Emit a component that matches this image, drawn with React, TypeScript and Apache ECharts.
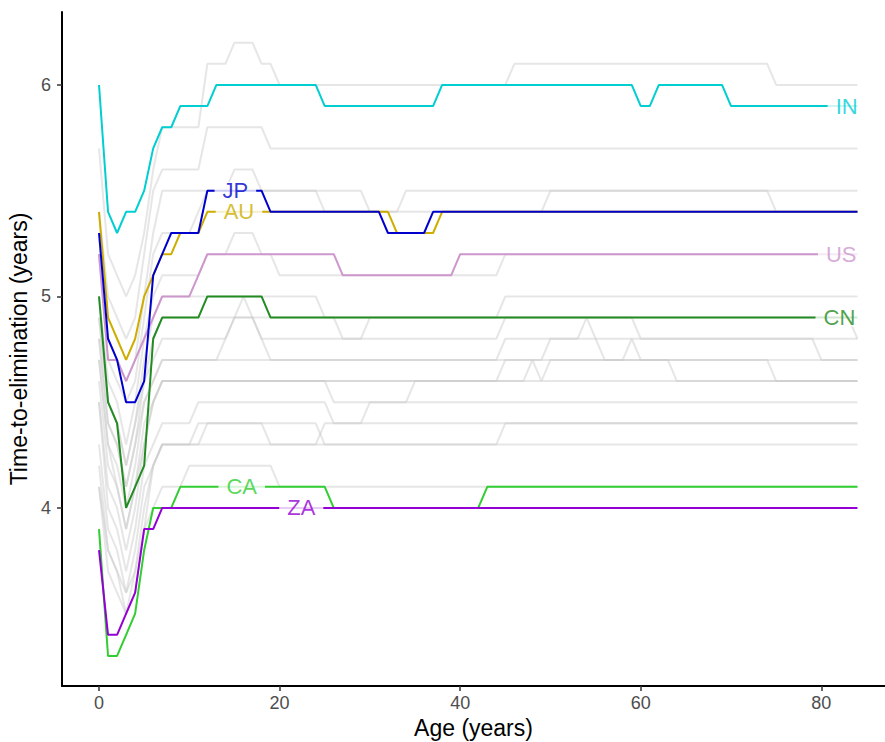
import React, { useEffect, useRef } from "react";
import * as echarts from "echarts";

// ---- Data: [age, time-to-elimination] points where the series changes ----
const inData = [[0,6.0],[1,5.4],[2,5.3],[3,5.4],[4,5.4],[5,5.5],[6,5.7],[7,5.8],[8,5.8],[9,5.9],[12,5.9],[13,6.0],[24,6.0],[25,5.9],[37,5.9],[38,6.0],[59,6.0],[60,5.9],[61,5.9],[62,6.0],[69,6.0],[70,5.9],[84,5.9]];
const jpData = [[0,5.3],[1,4.8],[2,4.7],[3,4.5],[4,4.5],[5,4.6],[6,5.1],[7,5.2],[8,5.3],[11,5.3],[12,5.5],[18,5.5],[19,5.4],[31,5.4],[32,5.3],[36,5.3],[37,5.4],[84,5.4]];
const auData = [[0,5.4],[1,4.9],[2,4.8],[3,4.7],[4,4.8],[5,5.0],[6,5.1],[7,5.2],[8,5.2],[9,5.3],[11,5.3],[12,5.4],[32,5.4],[33,5.3],[37,5.3],[38,5.4],[84,5.4]];
const usData = [[0,5.2],[1,4.7],[2,4.7],[3,4.6],[4,4.7],[5,4.8],[6,4.9],[7,5.0],[10,5.0],[11,5.1],[12,5.2],[26,5.2],[27,5.1],[39,5.1],[40,5.2],[84,5.2]];
const cnData = [[0,5.0],[1,4.5],[2,4.4],[3,4.0],[4,4.1],[5,4.2],[6,4.8],[7,4.9],[11,4.9],[12,5.0],[18,5.0],[19,4.9],[84,4.9]];
const caData = [[0,3.9],[1,3.3],[2,3.3],[3,3.4],[4,3.5],[5,3.8],[6,4.0],[7,4.0],[8,4.0],[9,4.1],[25,4.1],[26,4.0],[42,4.0],[43,4.1],[84,4.1]];
const zaData = [[0,3.8],[1,3.4],[2,3.4],[3,3.5],[4,3.6],[5,3.9],[6,3.9],[7,4.0],[84,4.0]];

// other countries (grey background)
const grey01 = [[0,5.7],[1,5.2],[2,5.1],[3,5.0],[4,5.1],[5,5.3],[6,5.6],[7,5.8],[11,5.8],[12,6.1],[14,6.1],[15,6.2],[17,6.2],[18,6.1],[19,6.1],[20,6.0],[45,6.0],[46,6.1],[74,6.1],[75,6.0],[84,6.0]];
const grey02 = [[0,5.4],[1,5.0],[2,4.9],[3,4.8],[4,4.9],[5,5.2],[6,5.5],[7,5.6],[11,5.6],[12,5.8],[18,5.8],[19,5.7],[84,5.7]];
const grey03 = [[0,5.3],[1,4.8],[2,4.7],[3,4.6],[4,4.7],[5,5.0],[6,5.3],[7,5.5],[24,5.5],[25,5.4],[33,5.4],[34,5.5],[74,5.5],[75,5.4],[84,5.4]];
const grey04 = [[0,5.2],[1,4.7],[2,4.6],[3,4.5],[4,4.6],[5,4.9],[6,5.2],[7,5.3],[10,5.3],[11,5.4],[12,5.5],[14,5.5],[15,5.6],[17,5.6],[18,5.5],[29,5.5],[30,5.4],[49,5.4],[50,5.5],[84,5.5]];
const grey05 = [[0,5.0],[1,4.6],[2,4.5],[3,4.3],[4,4.5],[5,4.8],[6,5.0],[7,5.1],[11,5.1],[12,5.2],[14,5.2],[15,5.3],[17,5.3],[18,5.2],[19,5.2],[20,5.1],[44,5.1],[45,5.2],[84,5.2]];
const grey06 = [[0,4.9],[1,4.5],[2,4.4],[3,4.2],[4,4.4],[5,4.7],[6,4.9],[7,5.0],[24,5.0],[25,4.9],[26,4.9],[27,4.8],[29,4.8],[30,4.9],[44,4.9],[45,5.0],[84,5.0]];
const grey07 = [[0,4.8],[1,4.4],[2,4.3],[3,4.1],[4,4.3],[5,4.6],[6,4.7],[7,4.8],[14,4.8],[15,4.9],[17,4.9],[18,4.8],[44,4.8],[45,4.9],[59,4.9],[60,4.8],[84,4.8]];
const grey08 = [[0,4.9],[1,4.5],[2,4.4],[3,4.2],[4,4.4],[5,4.6],[6,4.8],[7,4.9],[83,4.9],[84,4.8]];
const grey09 = [[0,4.7],[1,4.3],[2,4.2],[3,4.0],[4,4.2],[5,4.5],[6,4.6],[7,4.7],[13,4.7],[14,4.8],[15,4.9],[16,5.0],[17,4.9],[18,4.8],[19,4.7],[44,4.7],[45,4.8],[53,4.8],[54,4.9],[55,4.8],[56,4.7],[58,4.7],[59,4.8],[60,4.7],[84,4.7]];
const grey10 = [[0,4.8],[1,4.4],[2,4.3],[3,4.1],[4,4.3],[5,4.5],[6,4.6],[7,4.7],[49,4.7],[50,4.8],[79,4.8],[80,4.7],[84,4.7]];
const grey11 = [[0,4.6],[1,4.2],[2,4.1],[3,3.9],[4,4.1],[5,4.3],[6,4.5],[7,4.6],[44,4.6],[45,4.7],[74,4.7],[75,4.6],[84,4.6]];
const grey12 = [[0,4.7],[1,4.3],[2,4.1],[3,3.9],[4,4.1],[5,4.4],[6,4.5],[7,4.6],[47,4.6],[48,4.7],[49,4.6],[50,4.7],[63,4.7],[64,4.6],[84,4.6]];
const grey13 = [[0,4.5],[1,4.1],[2,4.0],[3,3.8],[4,4.0],[5,4.3],[6,4.5],[7,4.6],[25,4.6],[26,4.5],[34,4.5],[35,4.6],[84,4.6]];
const grey14 = [[0,4.5],[1,4.0],[2,3.9],[3,3.7],[4,3.9],[5,4.2],[6,4.3],[7,4.4],[10,4.4],[11,4.5],[25,4.5],[26,4.4],[29,4.4],[30,4.5],[84,4.5]];
const grey15 = [[0,4.3],[1,3.9],[2,3.8],[3,3.6],[4,3.8],[5,4.1],[6,4.2],[7,4.3],[10,4.3],[11,4.4],[24,4.4],[25,4.3],[44,4.3],[45,4.4],[84,4.4]];
const grey16 = [[0,4.2],[1,3.8],[2,3.7],[3,3.6],[4,3.7],[5,4.0],[6,4.2],[7,4.3],[24,4.3],[25,4.4],[84,4.4]];
const grey17 = [[0,4.1],[1,3.8],[2,3.7],[3,3.5],[4,3.7],[5,3.9],[6,4.2],[7,4.3],[11,4.3],[12,4.4],[18,4.4],[19,4.3],[84,4.3]];
const grey18 = [[0,4.1],[1,3.7],[2,3.6],[3,3.5],[4,3.6],[5,3.9],[6,4.0],[7,4.1],[9,4.1],[10,4.2],[19,4.2],[20,4.1],[84,4.1]];

const greySeries = [grey01, grey02, grey03, grey04, grey05, grey06, grey07, grey08, grey09, grey10, grey11, grey12, grey13, grey14, grey15, grey16, grey17, grey18];

const highlightNames = ["CA", "ZA", "CN", "US", "AU", "JP", "IN"];
const highlightData = [caData, zaData, cnData, usData, auData, jpData, inData];
const highlightColors = ["#32CD32", "#9400D3", "#228B22", "#CD96CD", "#CDAD00", "#0000CD", "#00CED1"];

// direct labels
const labelNames = ["IN", "JP", "AU", "US", "CN", "CA", "ZA"];
const labelAges = [82.8, 15.1, 15.5, 82.2, 82.0, 15.8, 22.4];
const labelValues = [5.9, 5.5, 5.4, 5.2, 4.9, 4.1, 4.0];

const xTicks = [0, 20, 40, 60, 80];
const yTicks = [4, 5, 6];

const FONT = "'Liberation Sans', Arial, Helvetica, sans-serif";

export default function App() {
  const ref = useRef<HTMLDivElement>(null);
  useEffect(() => {
    const chart = echarts.init(ref.current!, null, { renderer: "svg" });
    const colorOf = (n: string) => highlightColors[highlightNames.indexOf(n)];
    const series: any[] = [];
    greySeries.forEach((d, i) => {
      series.push({
        type: "line",
        name: "grey" + i,
        data: d,
        showSymbol: false,
        symbol: "none",
        z: 2,
        lineStyle: { color: "#c8c8c8", width: 2, opacity: 0.45 },
        emphasis: { disabled: true },
      });
    });
    highlightData.forEach((d, i) => {
      series.push({
        type: "line",
        name: highlightNames[i],
        data: d,
        showSymbol: false,
        symbol: "none",
        z: 3,
        lineStyle: { color: highlightColors[i], width: 2 },
        emphasis: { disabled: true },
      });
    });
    series.push({
      type: "scatter",
      name: "labels",
      z: 6,
      symbolSize: 0,
      data: labelNames.map((n, i) => ({
        name: n,
        value: [labelAges[i], labelValues[i]],
        label: { color: colorOf(n) },
      })),
      label: {
        show: true,
        position: "inside",
        formatter: (p: any) => p.name,
        fontSize: 22,
        fontFamily: FONT,
        backgroundColor: "#ffffff",
        padding: [0, 8],
        lineHeight: 18,
      },
      emphasis: { disabled: true },
    });

    chart.setOption({
      animation: false,
      backgroundColor: "#ffffff",
      grid: { left: 62, right: 0, top: 12, bottom: 56, containLabel: false, outerBoundsMode: "none" },
      xAxis: {
        type: "value",
        min: -4.1,
        max: 87.05,
        name: "Age (years)",
        nameLocation: "middle",
        nameGap: 30,
        nameTextStyle: { fontSize: 23, color: "#000", fontFamily: FONT },
        axisLine: { show: true, onZero: false, lineStyle: { color: "#000", width: 2 } },
        axisTick: { show: true, length: 5, customValues: xTicks, lineStyle: { color: "#333", width: 1.5 } },
        axisLabel: { customValues: xTicks, margin: 8, fontSize: 18, color: "#4D4D4D", fontFamily: FONT },
        splitLine: { show: false },
      },
      yAxis: {
        type: "value",
        min: 3.158,
        max: 6.345,
        name: "Time-to-elimination (years)",
        nameLocation: "middle",
        nameRotate: 90,
        nameGap: 28,
        nameTextStyle: { fontSize: 23, color: "#000", fontFamily: FONT },
        axisLine: { show: true, onZero: false, lineStyle: { color: "#000", width: 2 } },
        axisTick: { show: true, length: 5, customValues: yTicks, lineStyle: { color: "#333", width: 1.5 } },
        axisLabel: { customValues: yTicks, margin: 11, fontSize: 18, color: "#4D4D4D", fontFamily: FONT },
        splitLine: { show: false },
      },
      series,
    });
    return () => chart.dispose();
  }, []);
  return (
    <div
      ref={ref}
      style={{ position: "fixed", left: 0, top: 0, width: 885, height: 742, background: "#fff" }}
    />
  );
}
